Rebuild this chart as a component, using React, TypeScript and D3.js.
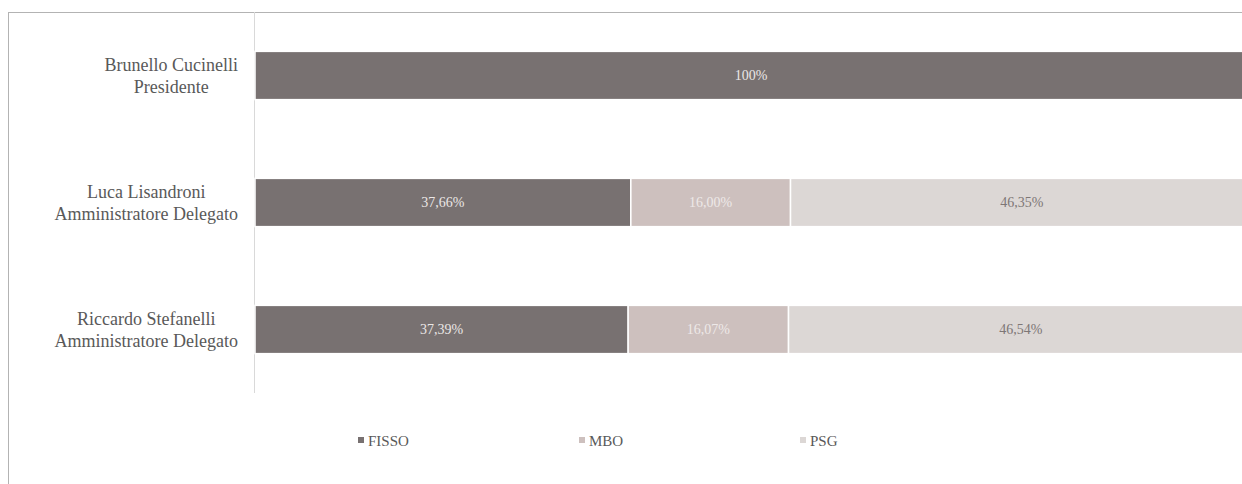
import React, { useEffect, useRef } from "react";
import * as d3 from "d3";

const people = [
  ["Brunello Cucinelli", "Presidente"],
  ["Luca Lisandroni", "Amministratore Delegato"],
  ["Riccardo Stefanelli", "Amministratore Delegato"],
];
const seriesNames = ["FISSO", "MBO", "PSG"];
const fisso = [100, 37.66, 37.39];
const mbo = [0, 16.0, 16.07];
const psg = [0, 46.35, 46.54];
const valueLabels = [
  ["100%", "", ""],
  ["37,66%", "16,00%", "46,35%"],
  ["37,39%", "16,07%", "46,54%"],
];
const colors = ["#787171", "#cdc0be", "#dcd7d5"];
const labelColors = ["#ebe7e6", "#eee9e8", "#7d7676"];

const W = 1242;
const H = 484;
const FONT = "Liberation Serif";

export default function App() {
  const ref = useRef<SVGSVGElement>(null);

  useEffect(() => {
    const svg = d3.select(ref.current);
    svg.selectAll("*").remove();

    svg.append("rect")
      .attr("x", 8.5).attr("y", 12.5)
      .attr("width", W + 20).attr("height", H + 20)
      .attr("fill", "none").attr("stroke", "#b3b3b3").attr("stroke-width", 1);

    const x = d3.scaleLinear().domain([0, 100]).range([255, 1253]);
    const y = d3.scaleBand<number>()
      .domain(d3.range(people.length))
      .range([12, 393])
      .paddingInner(0.62)
      .paddingOuter(0.31);

    svg.append("line")
      .attr("x1", 254.5).attr("x2", 254.5)
      .attr("y1", 12).attr("y2", 393)
      .attr("stroke", "#d9d9d9").attr("stroke-width", 1);

    const rows = people.map((_, i) => [fisso[i], mbo[i], psg[i]]);
    rows.forEach((vals, i) => {
      let acc = 0;
      vals.forEach((v, s) => {
        if (v <= 0) return;
        const x0 = x(acc);
        const x1 = x(acc + v);
        acc += v;
        svg.append("rect")
          .attr("x", x0).attr("y", y(i)!)
          .attr("width", x1 - x0).attr("height", y.bandwidth())
          .attr("fill", colors[s])
          .attr("stroke", "#ffffff").attr("stroke-width", 1.5);
        const label = valueLabels[i][s];
        if (label) {
          svg.append("text")
            .attr("x", s === 0 && v === 100 ? 751 : (x0 + x1) / 2)
            .attr("y", y(i)! + y.bandwidth() / 2 + 4.5)
            .attr("text-anchor", "middle")
            .style("font-family", FONT).style("font-size", "14px")
            .attr("fill", labelColors[s])
            .text(label);
        }
      });
    });

    people.forEach((lines, i) => {
      const cy = y(i)! + y.bandwidth() / 2;
      const g = svg.append("g");
      const texts = lines.map((t, k) =>
        g.append("text")
          .attr("y", cy - 4.5 + k * 22)
          .style("font-family", FONT).style("font-size", "18px")
          .attr("fill", "#595959")
          .attr("text-anchor", "middle")
          .text(t)
      );
      const maxW = d3.max(texts, (t) => (t.node() as SVGTextElement).getComputedTextLength()) || 0;
      texts.forEach((t) => t.attr("x", 238 - maxW / 2));
    });

    const lx = d3.scalePoint<string>().domain(seriesNames).range([358, 800]);
    seriesNames.forEach((name, s) => {
      const px = lx(name)!;
      svg.append("rect")
        .attr("x", px).attr("y", 437)
        .attr("width", 6).attr("height", 6)
        .attr("fill", colors[s]);
      svg.append("text")
        .attr("x", px + 10).attr("y", 446)
        .style("font-family", FONT).style("font-size", "15px")
        .attr("fill", "#595959")
        .text(name);
    });
  }, []);

  return (
    <svg
      ref={ref}
      width={W}
      height={H}
      style={{ position: "absolute", left: 0, top: 0, background: "#fff" }}
    />
  );
}
